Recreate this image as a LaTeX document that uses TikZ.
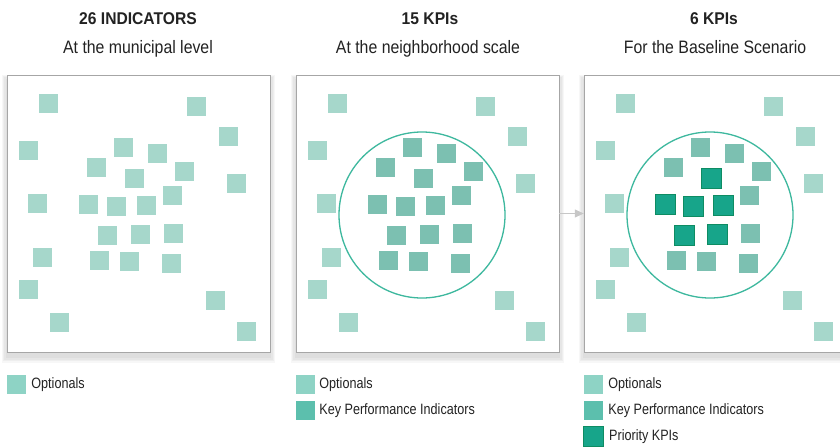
\documentclass[tikz,border=0pt]{standalone}
\usepackage{fontspec}
\setmainfont{Liberation Sans}
\newfontfamily\headfont[FakeStretch=0.92]{Liberation Sans}
\newfontfamily\subfont[FakeStretch=0.88]{Liberation Sans}
\newfontfamily\legfont[FakeStretch=0.84]{Liberation Sans}
\usetikzlibrary{positioning,shadows,arrows.meta}

\definecolor{optfill}{HTML}{A6D7CB}
\definecolor{kpifill}{HTML}{7CC0B1}
\definecolor{prifill}{HTML}{17A58A}
\definecolor{pridraw}{HTML}{0E8C63}
\definecolor{ringcol}{HTML}{3DB89E}
\definecolor{legopt}{HTML}{8ED3C5}
\definecolor{legkpi}{HTML}{5CBFAD}
\definecolor{txtcol}{HTML}{222222}

% square positions, the same in every panel
\def\outerpos{48/103,196/106,228/136,28/150,236/183,37/203,42/257,28/289,215/300,59/322,246/331}
\def\kpipos{123/147,157/153,96/167,184/171,172/195,173/233,99/260,129/261,171/263}
\def\pripos{134/178,88/204,116/206,146/205,107/235,140/234}

\tikzset{
  panel/.style={draw=black!35, fill=white, inner sep=0pt,
    minimum width=263pt, minimum height=277pt,
    general shadow={fill=black, opacity=0.035, shadow yshift=-5pt, shadow scale=1.01},
    general shadow={fill=black, opacity=0.035, shadow yshift=-5pt, shadow scale=1.02},
    general shadow={fill=black, opacity=0.035, shadow yshift=-5pt, shadow scale=1.03},
    general shadow={fill=black, opacity=0.03, shadow yshift=-5pt, shadow scale=1.04}},
  sq/.style={inner sep=0pt, minimum size=19pt},
  opt/.style={sq, fill=optfill},
  kpi/.style={sq, fill=kpifill},
  prio/.style={sq, minimum size=20pt, fill=prifill, draw=pridraw, line width=1pt},
  ring/.style={circle, draw=ringcol, line width=1.3pt, minimum size=166pt, inner sep=0pt},
  head/.style={anchor=base, text=txtcol, font=\headfont\bfseries\fontsize{17}{20}\selectfont},
  sub/.style={anchor=base, text=txtcol, font=\subfont\fontsize{18}{21}\selectfont},
  legtext/.style={anchor=west, inner sep=0pt, text=txtcol, font=\legfont\fontsize{15}{18}\selectfont},
  arr/.style={draw=black!22, line width=0.8pt, -{Triangle[length=9pt,width=8pt]}}
}

\begin{document}
\begin{tikzpicture}[x=1pt,y=-1pt]
  \useasboundingbox (0,0) rectangle (840,447);
  \clip (0,0) rectangle (840,447);
  %
  % panel 1
  \node[panel] (p1) at (138.5,213.5) {};
  \foreach \x/\y [count=\i] in \outerpos \node[opt] (ao\i) at (\x,\y) {};
  \foreach \x/\y [count=\i] in \kpipos \node[opt] (ak\i) at (\x,\y) {};
  \foreach \x/\y [count=\i] in \pripos \node[opt] (ap\i) at (\x,\y) {};
  %
  % panel 2
  \begin{scope}[xshift=289pt]
    \node[panel] (p2) at (138.5,213.5) {};
    \node[ring] (r2) at (133,215) {};
    \foreach \x/\y [count=\i] in \outerpos \node[opt] (bo\i) at (\x,\y) {};
    \foreach \x/\y [count=\i] in \kpipos \node[kpi] (bk\i) at (\x,\y) {};
    \foreach \x/\y [count=\i] in \pripos \node[kpi] (bp\i) at (\x,\y) {};
  \end{scope}
  %
  % panel 3
  \begin{scope}[xshift=577pt]
    \node[panel] (p3) at (138.5,213.5) {};
    \node[ring] (r3) at (133,215) {};
    \foreach \x/\y [count=\i] in \outerpos \node[opt] (co\i) at (\x,\y) {};
    \foreach \x/\y [count=\i] in \kpipos \node[kpi] (ck\i) at (\x,\y) {};
    \foreach \x/\y [count=\i] in \pripos \node[prio] (cp\i) at (\x,\y) {};
  \end{scope}
  %
  \draw[arr] (p2.east) -- (p3.west);
  %
  \node[head] (h1) at (138,24) {26 INDICATORS};
  \node[sub] (s1) at (138,53) {At the municipal level};
  \node[head] (h2) at (430,24) {15 KPIs};
  \node[sub] (s2) at (428,53) {At the neighborhood scale};
  \node[head] (h3) at (714,24) {6 KPIs};
  \node[sub] (s3) at (715,53) {For the Baseline Scenario};
  %
  % legends
  \node[opt, fill=legopt] (l1a) at (16.5,384.5) {};
  \node[legtext, right=5pt of l1a] (t1a) {Optionals};
  %
  \node[opt, fill=legopt] (l2a) at (305.5,384.5) {};
  \node[kpi, fill=legkpi] (l2b) at (305.5,410.5) {};
  \node[legtext, right=4pt of l2a] (t2a) {Optionals};
  \node[legtext, right=4pt of l2b] (t2b) {Key Performance Indicators};
  %
  \node[opt, fill=legopt] (l3a) at (593.5,384.5) {};
  \node[kpi, fill=legkpi] (l3b) at (593.5,410.5) {};
  \node[prio] (l3c) at (593.5,436.5) {};
  \node[legtext, right=5pt of l3a] (t3a) {Optionals};
  \node[legtext, right=5pt of l3b] (t3b) {Key Performance Indicators};
  \node[legtext, right=5pt of l3c] (t3c) {Priority KPIs};
\end{tikzpicture}
\end{document}
